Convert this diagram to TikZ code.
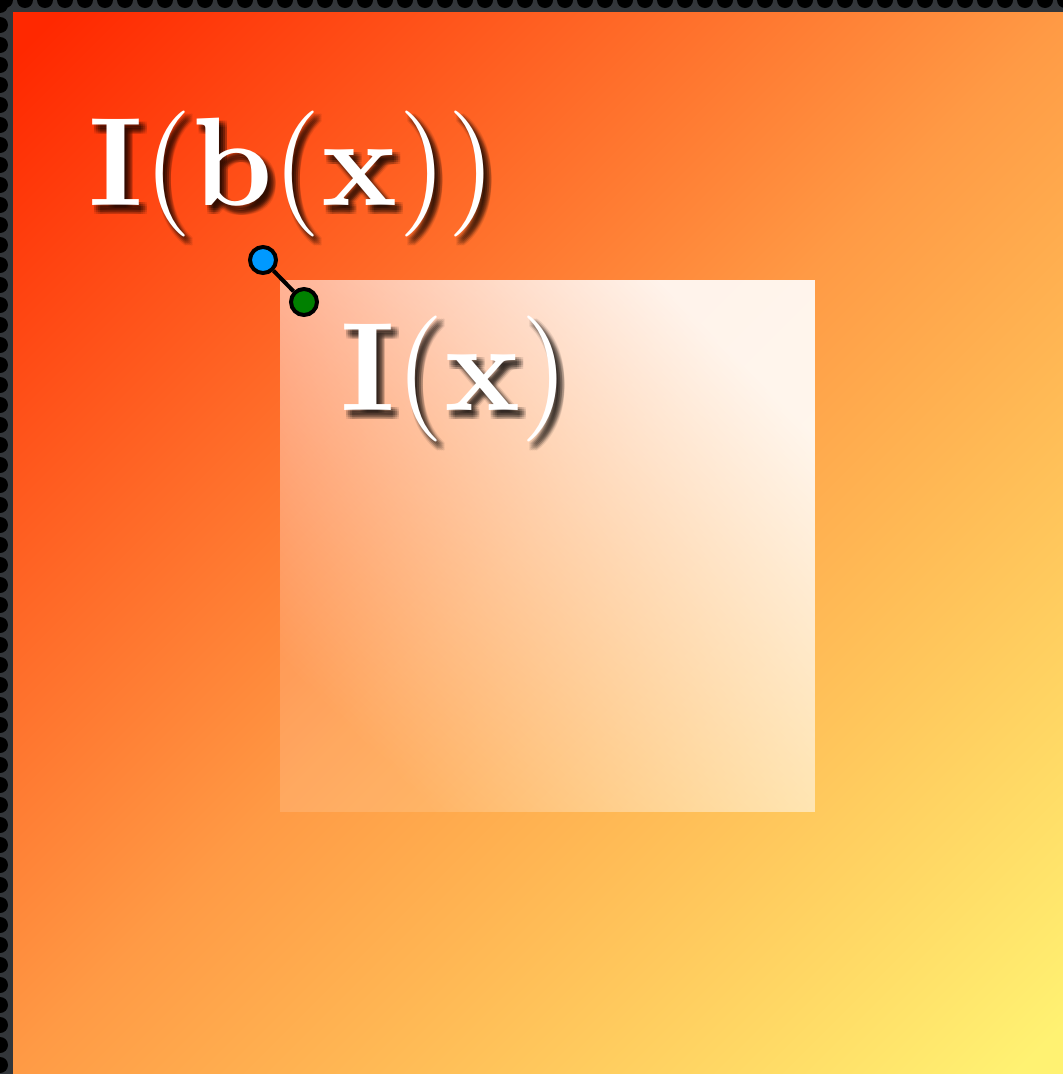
\documentclass[tikz,border=0pt]{standalone}
\usepackage{amsmath}
\usetikzlibrary{fadings}
\definecolor{cRed}{HTML}{FF2800}
\definecolor{cOrange}{HTML}{FF9A45}
\definecolor{cYellow}{HTML}{FFF272}
\definecolor{cFrame}{HTML}{33363A}
\definecolor{cBlue}{HTML}{0099FF}
\definecolor{cGreen}{HTML}{008000}
\pgfdeclarehorizontalshading{bgshade}{100bp}{color(0bp)=(cRed); color(16bp)=(cRed); color(50bp)=(cOrange); color(84bp)=(cYellow); color(100bp)=(cYellow)}
\tikzfading[name=sqfade, left color=transparent!85, right color=transparent!10]
\tikzset{
  label/.style={inner sep=0pt, anchor=base west, text=white, scale=12.6},
  shadowtxt/.style={inner sep=0pt, anchor=base west, text=black, scale=12.6},
  dot/.style={circle, draw=black, line width=4pt, minimum size=26pt, inner sep=0pt},
  link/.style={draw=black, line width=4pt}
}
\newcommand{\lblA}{$\mathbf{I}(\mathbf{b}(\mathbf{x}))$}
\newcommand{\lblB}{$\mathbf{I}(\mathbf{x})$}
\begin{document}
\begin{tikzpicture}[x=1pt,y=-1pt]
\useasboundingbox (0,0) rectangle (1063,1074);
% frame
\fill[cFrame] (0,0) rectangle (1063,1074);
\begin{scope}
\clip (0,0) rectangle (1063,1074);
\foreach \i in {0,...,54} {
  \fill[black] (\i*20+5,0) circle (8);
  \fill[black] (0,\i*20+5) circle (8);
}
\end{scope}
% background gradient
\shade[shading=bgshade, shading angle=-45] (13,12) rectangle (1063,1074);
% inner translucent square
\fill[white, path fading=sqfade, fading angle=45] (280,279) rectangle (815,812);
% blurred shadows
\foreach \dx in {2,4,6,8} {
  \foreach \dy in {3,5,7,9} {
    \node[shadowtxt, opacity=0.09] at (86+\dx,205+\dy) {\lblA};
    \node[shadowtxt, opacity=0.09] at (338+\dx,410+\dy) {\lblB};
  }
}
\node[label] (big) at (86,205) {\lblA};
\node[label] (small) at (338,410) {\lblB};
% handle
\node[dot, fill=cBlue] (pa) at (263,260) {};
\node[dot, fill=cGreen] (pb) at (304,302) {};
\draw[link] (pa) -- (pb);
\end{tikzpicture}
\end{document}
